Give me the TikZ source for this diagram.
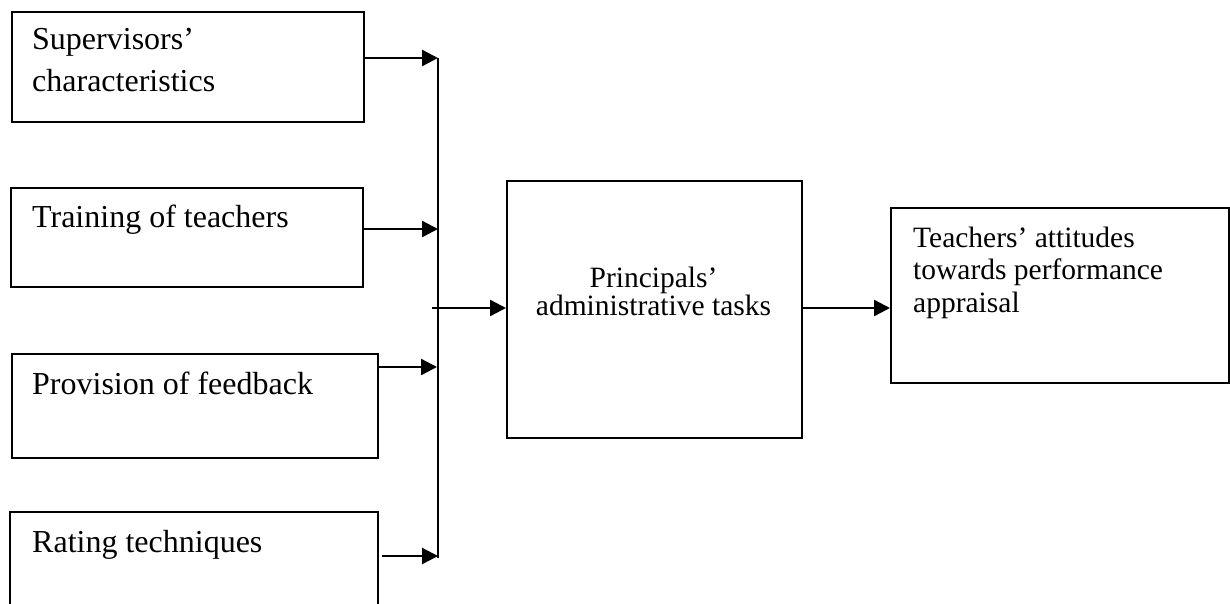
\documentclass[tikz,border=0pt]{standalone}
\usepackage{fontspec}
\setmainfont{Liberation Serif}
\usetikzlibrary{arrows.meta}
\tikzset{
  box/.style={draw=black, line width=2.2pt, inner sep=0pt, anchor=north west},
  lbl/.style={inner sep=0pt, anchor=base west, font=\fontsize{32}{42}\selectfont},
  mlbl/.style={inner sep=0pt, anchor=base, font=\fontsize{29.5}{34}\selectfont},
  rlbl/.style={inner sep=0pt, anchor=base west, font=\fontsize{29.5}{34}\selectfont},
  arr/.style={line width=2.4pt, -{Triangle[length=16pt,width=16pt]}},
  ln/.style={line width=2.4pt}
}
\begin{document}
\begin{tikzpicture}[x=1pt,y=-1pt]
\useasboundingbox (0,0) rectangle (1230,603);
\clip (0,0) rectangle (1230,603);
\fill[white] (0,0) rectangle (1230,603);
% boxes
\node[box, minimum width=352pt, minimum height=110pt] (b1) at (11,11) {};
\node[box, minimum width=352pt, minimum height=99pt] (b2) at (10,187) {};
\node[box, minimum width=366pt, minimum height=104pt] (b3) at (11,353) {};
\node[box, minimum width=368pt, minimum height=120pt] (b4) at (9,511) {};
\node[box, minimum width=295pt, minimum height=257pt] (m) at (506,180) {};
\node[box, minimum width=338pt, minimum height=175pt] (r) at (890,207) {};
% texts
\node[lbl] (t1a) at (32,49) {Supervisors’};
\node[lbl] (t1b) at (32,91) {characteristics};
\node[lbl] (t2) at (32,227) {Training of teachers};
\node[lbl] (t3) at (32,394) {Provision of feedback};
\node[lbl] (t4) at (32,552) {Rating techniques};
\node[mlbl] (tm1) at (653.5,287) {Principals’};
\node[mlbl] (tm2) at (653.5,315) {administrative tasks};
\node[rlbl] (tr1) at (913,247) {Teachers’ attitudes};
\node[rlbl] (tr2) at (913,279) {towards performance};
\node[rlbl] (tr3) at (913,312) {appraisal};
% bus
\coordinate (bustop) at (438,58);
\coordinate (busbot) at (438,558);
\coordinate (busmid) at (432,308);
\draw[ln] (bustop) -- (busbot);
% arrows
\draw[arr] (b1.east |- bustop) -- (bustop);
\draw[arr] (b2.east |- 0,229) -- (438,229);
\draw[arr] (b3.east |- 0,367) -- (437,367);
\draw[arr] ([xshift=3pt]b4.east |- 0,556) -- (438,556);
\draw[arr] (busmid) -- (m.west |- busmid);
\draw[arr] (m.east |- 0,308) -- (r.west |- 0,308);
\end{tikzpicture}
\end{document}
